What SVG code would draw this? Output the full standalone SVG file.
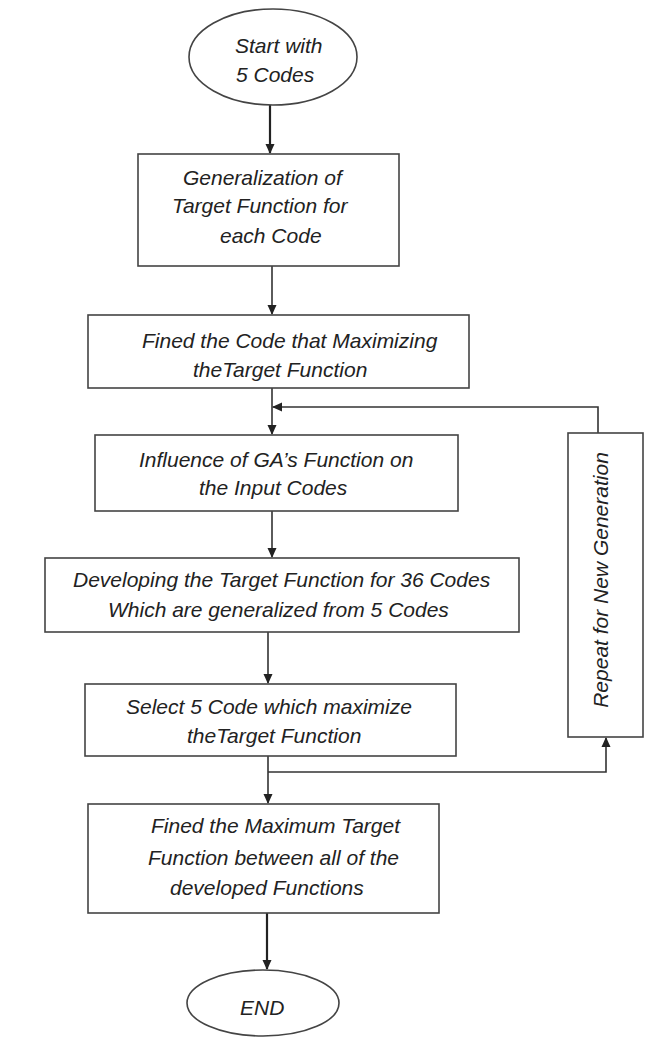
<svg xmlns="http://www.w3.org/2000/svg" width="645" height="1039" viewBox="0 0 645 1039">
<defs>
<style>
.box{fill:#fff;stroke:#444;stroke-width:1.6}
.t{font-family:"Liberation Sans",Arial,sans-serif;font-style:italic;font-size:21px;fill:#222}
.c{fill:none;stroke:#333;stroke-width:1.6}
.ct{fill:none;stroke:#222;stroke-width:2.2}
</style>
<marker id="ah" markerWidth="10" markerHeight="10" refX="9" refY="5" orient="auto" markerUnits="userSpaceOnUse">
<path d="M0,0.5 L10,5 L0,9.5 Z" fill="#222"/>
</marker>
</defs>
<rect width="645" height="1039" fill="#fff"/>
<g id="connectors">
<path class="ct" d="M270,105 V153" marker-end="url(#ah)"/>
<path class="c" d="M272,266 V314" marker-end="url(#ah)"/>
<path class="c" d="M272,388 V434" marker-end="url(#ah)"/>
<path class="c" d="M598,433 V407 H273" marker-end="url(#ah)"/>
<path class="c" d="M272,511 V557" marker-end="url(#ah)"/>
<path class="c" d="M268,632 V683" marker-end="url(#ah)"/>
<path class="c" d="M268,756 V803" marker-end="url(#ah)"/>
<path class="c" d="M268,772 H606 V738" marker-end="url(#ah)"/>
<path class="ct" d="M267,913 V969" marker-end="url(#ah)"/>
</g>
<g id="start">
<ellipse class="box" cx="273" cy="57" rx="84" ry="48"/>
<text class="t" x="235" y="53">Start with</text>
<text class="t" x="236" y="82">5 Codes</text>
</g>
<g id="generalization">
<rect class="box" x="138" y="154" width="261" height="112"/>
<text class="t" x="183" y="185">Generalization of</text>
<text class="t" x="172" y="213">Target Function for</text>
<text class="t" x="220" y="243">each Code</text>
</g>
<g id="fined-code">
<rect class="box" x="88" y="315" width="381" height="73"/>
<text class="t" x="142" y="348">Fined the Code that Maximizing</text>
<text class="t" x="193" y="377">theTarget Function</text>
</g>
<g id="influence">
<rect class="box" x="95" y="435" width="363" height="76"/>
<text class="t" x="139" y="467">Influence of GA’s Function on</text>
<text class="t" x="199" y="495">the Input Codes</text>
</g>
<g id="developing">
<rect class="box" x="45" y="558" width="474" height="74"/>
<text class="t" x="73" y="587">Developing the Target Function for 36 Codes</text>
<text class="t" x="108" y="617">Which are generalized from 5 Codes</text>
</g>
<g id="select">
<rect class="box" x="85" y="684" width="371" height="72"/>
<text class="t" x="126" y="714">Select 5 Code which maximize</text>
<text class="t" x="187" y="743">theTarget Function</text>
</g>
<g id="repeat">
<rect class="box" x="568" y="433" width="75" height="304"/>
<text class="t" transform="translate(608,580) rotate(-90)" text-anchor="middle" x="0" y="0">Repeat for New Generation</text>
</g>
<g id="fined-max">
<rect class="box" x="88" y="804" width="351" height="109"/>
<text class="t" x="151" y="833">Fined the Maximum Target</text>
<text class="t" x="148" y="865">Function between all of the</text>
<text class="t" x="170" y="895">developed Functions</text>
</g>
<g id="end">
<ellipse class="box" cx="263" cy="1003" rx="76" ry="33"/>
<text class="t" x="240" y="1015">END</text>
</g>
</svg>
